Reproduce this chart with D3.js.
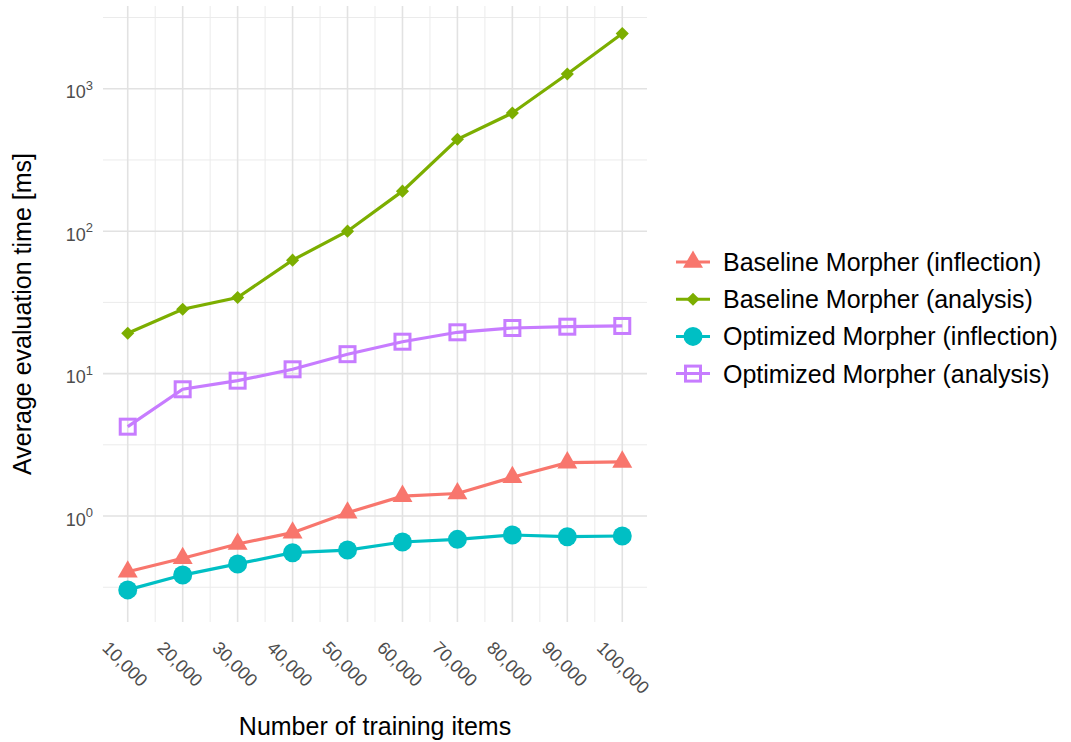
<!DOCTYPE html>
<html>
<head>
<meta charset="utf-8">
<script src="https://cdn.jsdelivr.net/npm/d3@7"></script>
<style>
  body { margin: 0; background: #fff; }
  svg { font-family: "Liberation Sans", Arial, Helvetica, sans-serif; }
</style>
</head>
<body>
<div id="chart-area"></div>
<script>
// Data
var trainingItems = [10000, 20000, 30000, 40000, 50000, 60000, 70000, 80000, 90000, 100000];
var seriesNames = ['Baseline Morpher (inflection)', 'Baseline Morpher (analysis)',
                   'Optimized Morpher (inflection)', 'Optimized Morpher (analysis)'];
var baselineInflection = [0.406, 0.505, 0.636, 0.764, 1.055, 1.38, 1.44, 1.87, 2.37, 2.40];
var baselineAnalysis   = [19.2, 28.3, 34.2, 62.6, 100, 191, 442, 676, 1270, 2440];
var optimizedInflection = [0.303, 0.385, 0.461, 0.553, 0.577, 0.657, 0.686, 0.736, 0.716, 0.724];
var optimizedAnalysis  = [4.24, 7.76, 8.92, 10.72, 13.69, 16.75, 19.5, 20.9, 21.35, 21.6];
var yTicks = [1, 10, 100, 1000];
var yMinorTicks = [Math.pow(10, -0.5), Math.pow(10, 0.5), Math.pow(10, 1.5), Math.pow(10, 2.5), Math.pow(10, 3.5)];
var xMinorTicks = [15000, 25000, 35000, 45000, 55000, 65000, 75000, 85000, 95000];

var colors = ['#F8766D', '#7CAE00', '#00BFC4', '#C77CFF'];
var allValues = [baselineInflection, baselineAnalysis, optimizedInflection, optimizedAnalysis];

//Margin / panel
var margin = {left: 103, right: 424, top: 6, bottom: 120};
var W = 1071, H = 742;
var width = W - margin.left - margin.right,
    height = H - margin.top - margin.bottom;

var svg = d3.select('#chart-area')
    .append('svg')
        .attr('width', W)
        .attr('height', H);

var g = svg.append('g')
    .attr('transform', 'translate(' + margin.left + ',' + margin.top + ')');

//X Scale (5% expansion like ggplot)
var xPad = (d3.max(trainingItems) - d3.min(trainingItems)) * 0.05;
var x = d3.scaleLinear()
    .domain([d3.min(trainingItems) - xPad, d3.max(trainingItems) + xPad])
    .range([0, width]);

//Y Scale (log, limits as seen in the reference)
var y = d3.scaleLog()
    .domain([Math.pow(10, -0.744), Math.pow(10, 3.581)])
    .range([height, 0]);

//Grid - minor
g.append('g').selectAll('line')
    .data(yMinorTicks).enter().append('line')
        .attr('x1', 0).attr('x2', width)
        .attr('y1', function(d){ return y(d); })
        .attr('y2', function(d){ return y(d); })
        .attr('stroke', '#ebebeb').attr('stroke-width', 1);
g.append('g').selectAll('line')
    .data(xMinorTicks).enter().append('line')
        .attr('y1', 0).attr('y2', height)
        .attr('x1', function(d){ return x(d); })
        .attr('x2', function(d){ return x(d); })
        .attr('stroke', '#ebebeb').attr('stroke-width', 1);

//Grid - major
g.append('g').selectAll('line')
    .data(yTicks).enter().append('line')
        .attr('x1', 0).attr('x2', width)
        .attr('y1', function(d){ return y(d); })
        .attr('y2', function(d){ return y(d); })
        .attr('stroke', '#e2e2e2').attr('stroke-width', 1.6);
g.append('g').selectAll('line')
    .data(trainingItems).enter().append('line')
        .attr('y1', 0).attr('y2', height)
        .attr('x1', function(d){ return x(d); })
        .attr('x2', function(d){ return x(d); })
        .attr('stroke', '#e2e2e2').attr('stroke-width', 1.6);

//X Axis
var xAxisCall = d3.axisBottom(x)
    .tickValues(trainingItems)
    .tickSize(0)
    .tickFormat(d3.format(','));
var xAxis = g.append('g')
    .attr('class', 'x axis')
    .attr('transform', 'translate(0,' + height + ')')
    .call(xAxisCall);
xAxis.select('.domain').remove();
xAxis.selectAll('text')
    .attr('fill', '#4d4d4d')
    .attr('font-size', '18px')
    .attr('text-anchor', 'start')
    .attr('dy', null)
    .attr('y', 0)
    .attr('transform', 'translate(-27,27) rotate(45)');

//Y Axis
var yAxisCall = d3.axisLeft(y)
    .tickValues(yTicks)
    .tickSize(0)
    .tickFormat('');
var yAxis = g.append('g')
    .attr('class', 'y axis')
    .call(yAxisCall);
yAxis.select('.domain').remove();
yAxis.selectAll('.tick').each(function(d){
    var t = d3.select(this).select('text')
        .attr('x', -10)
        .attr('dy', '0.5em')
        .attr('fill', '#4d4d4d')
        .attr('font-size', '18px')
        .attr('text-anchor', 'end');
    t.text(null);
    t.append('tspan').text('10');
    t.append('tspan')
        .attr('font-size', '13px')
        .attr('dy', '-0.65em')
        .text(Math.round(Math.log10(d)));
});

//X Label
svg.append('text')
    .attr('x', margin.left + width / 2)
    .attr('y', 735)
    .attr('font-size', '25px')
    .attr('text-anchor', 'middle')
    .text('Number of training items');

//Y Label
svg.append('text')
    .attr('x', -(margin.top + height / 2))
    .attr('y', 31)
    .attr('font-size', '25px')
    .attr('text-anchor', 'middle')
    .attr('transform', 'rotate(-90)')
    .text('Average evaluation time [ms]');

// symbols
function drawSymbol(sel, i){
    if (i === 0) {
        sel.append('path')
            .attr('d', d3.symbol().type(d3.symbolTriangle).size(173)())
            .attr('fill', colors[i]);
    } else if (i === 1) {
        sel.append('path')
            .attr('d', d3.symbol().type(d3.symbolSquare).size(86)())
            .attr('transform', 'rotate(45)')
            .attr('fill', colors[i]);
    } else if (i === 2) {
        sel.append('circle')
            .attr('r', 9.5)
            .attr('fill', colors[i]);
    } else {
        sel.append('rect')
            .attr('x', -7.5).attr('y', -7.5)
            .attr('width', 15).attr('height', 15)
            .attr('fill', 'none')
            .attr('stroke', colors[i])
            .attr('stroke-width', 3);
    }
}

var line = d3.line()
    .x(function(d){ return x(d[0]); })
    .y(function(d){ return y(d[1]); });

var series = allValues.map(function(vals){
    return trainingItems.map(function(t, j){ return [t, vals[j]]; });
});

// lines first, then points
series.forEach(function(s, i){
    g.append('path')
        .datum(s)
        .attr('fill', 'none')
        .attr('stroke', colors[i])
        .attr('stroke-width', 3.2)
        .attr('d', line);
});
series.forEach(function(s, i){
    g.append('g').selectAll('g')
        .data(s).enter().append('g')
            .attr('transform', function(d){ return 'translate(' + x(d[0]) + ',' + y(d[1]) + ')'; })
            .each(function(){ drawSymbol(d3.select(this), i); });
});

//Legend
var legend = svg.append('g')
    .attr('transform', 'translate(676,262)');
seriesNames.forEach(function(name, i){
    var row = legend.append('g')
        .attr('transform', 'translate(0,' + (i * 37.2) + ')');
    row.append('line')
        .attr('x1', 0).attr('x2', 34)
        .attr('stroke', colors[i])
        .attr('stroke-width', 3);
    var sym = row.append('g').attr('transform', 'translate(17,0)');
    drawSymbol(sym, i);
    row.append('text')
        .attr('x', 47)
        .attr('dy', '0.36em')
        .attr('font-size', '25px')
        .text(name);
});
</script>
</body>
</html>
